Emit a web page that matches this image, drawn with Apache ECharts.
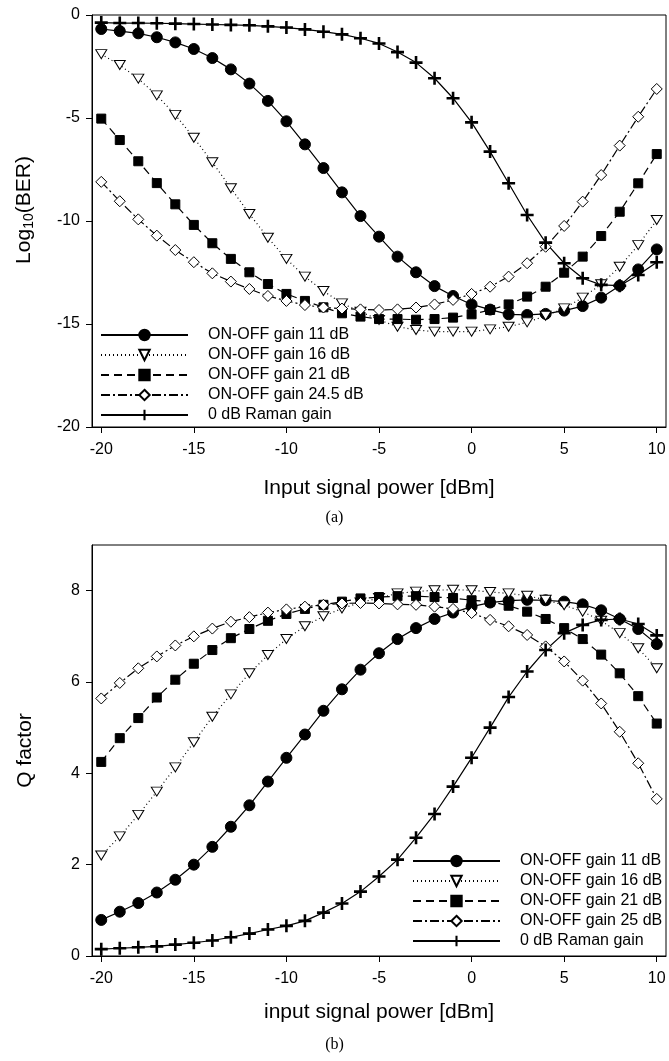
<!DOCTYPE html>
<html>
<head>
<meta charset="utf-8">
<script src="https://cdn.jsdelivr.net/npm/echarts@6/dist/echarts.min.js"></script>
<style>
  body { margin: 0; background: #fff; }
  #main { width: 669px; height: 1061px; }
</style>
</head>
<body>
<div id="main"></div>
<script>
// 横轴：输入信号功率 (dBm)
var power = [-20, -19, -18, -17, -16, -15, -14, -13, -12, -11, -10, -9, -8, -7, -6, -5,
	-4, -3, -2, -1, 0, 1, 2, 3, 4, 5, 6, 7, 8, 9, 10];
var xTicks = [-20, -15, -10, -5, 0, 5, 10];
var berTicks = [-20, -15, -10, -5, 0];
var qTicks = [0, 2, 4, 6, 8];

// (a) Log10(BER)
var ber11 = [-0.68, -0.78, -0.89, -1.08, -1.33, -1.65, -2.09, -2.64, -3.33, -4.17, -5.16, -6.28, -7.43, -8.61, -9.76,
	-10.76, -11.73, -12.49, -13.16, -13.64, -14.05, -14.3, -14.53, -14.56, -14.51, -14.35, -14.13, -13.72, -13.14, -12.35, -11.38];
var ber16 = [-1.9, -2.43, -3.09, -3.9, -4.85, -5.96, -7.15, -8.41, -9.66, -10.81, -11.84, -12.7, -13.4, -14.0, -14.4, -14.8,
	-15.13, -15.29, -15.37, -15.37, -15.37, -15.26, -15.13, -14.92, -14.6, -14.24, -13.72, -13.07, -12.22, -11.17, -9.95];
var ber21 = [-5.03, -6.07, -7.1, -8.16, -9.19, -10.19, -11.08, -11.84, -12.49, -13.06, -13.54, -13.88, -14.19, -14.48, -14.64, -14.76,
	-14.76, -14.79, -14.76, -14.69, -14.53, -14.32, -14.05, -13.67, -13.19, -12.51, -11.73, -10.73, -9.55, -8.17, -6.75];
var ber245 = [-8.1, -9.04, -9.92, -10.71, -11.41, -12.0, -12.54, -12.94, -13.3, -13.64, -13.88, -14.08, -14.2, -14.25, -14.29, -14.32,
	-14.29, -14.2, -14.05, -13.83, -13.54, -13.19, -12.7, -12.05, -11.25, -10.24, -9.06, -7.77, -6.34, -4.94, -3.59];
var ber0 = [-0.37, -0.39, -0.39, -0.4, -0.42, -0.44, -0.46, -0.48, -0.5, -0.55, -0.61, -0.7, -0.81, -0.94, -1.13, -1.38,
	-1.8, -2.31, -3.07, -4.04, -5.21, -6.63, -8.17, -9.71, -11.05, -12.05, -12.78, -13.1, -13.14, -12.62, -12.0];

// (b) Q factor
var q11 = [0.79, 0.97, 1.16, 1.39, 1.67, 2.0, 2.39, 2.83, 3.3, 3.82, 4.34, 4.85, 5.37, 5.84, 6.27, 6.63,
	6.94, 7.18, 7.38, 7.52, 7.65, 7.74, 7.78, 7.8, 7.79, 7.76, 7.7, 7.57, 7.38, 7.16, 6.83];
var q16 = [2.2, 2.62, 3.09, 3.6, 4.13, 4.68, 5.24, 5.73, 6.19, 6.59, 6.94, 7.22, 7.44, 7.61, 7.74, 7.84,
	7.94, 7.98, 8.01, 8.02, 8.01, 7.97, 7.94, 7.89, 7.8, 7.68, 7.54, 7.34, 7.07, 6.74, 6.3];
var q21 = [4.25, 4.77, 5.21, 5.66, 6.05, 6.4, 6.7, 6.96, 7.16, 7.34, 7.49, 7.6, 7.69, 7.76, 7.83, 7.86,
	7.88, 7.88, 7.86, 7.84, 7.79, 7.76, 7.67, 7.54, 7.38, 7.18, 6.94, 6.6, 6.19, 5.69, 5.09];
var q25 = [5.64, 5.98, 6.3, 6.56, 6.8, 7.0, 7.17, 7.32, 7.42, 7.52, 7.59, 7.65, 7.69, 7.72, 7.73, 7.72,
	7.7, 7.69, 7.65, 7.6, 7.51, 7.36, 7.22, 7.03, 6.78, 6.45, 6.03, 5.53, 4.91, 4.22, 3.44];
var q0 = [0.15, 0.17, 0.19, 0.21, 0.25, 0.29, 0.34, 0.41, 0.49, 0.58, 0.66, 0.77, 0.95, 1.15, 1.41, 1.74,
	2.11, 2.59, 3.11, 3.71, 4.34, 5.0, 5.67, 6.23, 6.7, 7.07, 7.25, 7.36, 7.38, 7.27, 7.02];

var FONT = "'Liberation Sans', Arial, sans-serif";
var PLUS = 'path://M4,0L6,0L6,4L10,4L10,6L6,6L6,10L4,10L4,6L0,6L0,4L4,4Z';

function pairs(ys) {
	return power.map(function (x, i) { return [x, ys[i]]; });
}

// 每条曲线的线型和标记
function makeSeries(name, ys, idx, kind) {
	var s = {
		name: name,
		type: 'line',
		xAxisIndex: idx,
		yAxisIndex: idx,
		data: pairs(ys),
		lineStyle: { color: '#000', width: 1.2, type: 'solid' },
		itemStyle: { color: '#000', borderColor: '#000', borderWidth: 1 },
		symbolSize: 10,
		animation: false,
		z: 3
	};
	if (kind == 'circle') {
		s.symbol = 'circle';
		s.symbolSize = 11;
	} else if (kind == 'tri') {
		s.symbol = 'triangle';
		s.symbolRotate = 180;
		s.symbolSize = [11, 9];
		s.itemStyle.color = '#fff';
		s.lineStyle.type = [1, 3];
	} else if (kind == 'square') {
		s.symbol = 'rect';
		s.symbolSize = 9;
		s.lineStyle.type = [8, 5];
	} else if (kind == 'diamond') {
		s.symbol = 'diamond';
		s.symbolSize = 11;
		s.itemStyle.color = '#fff';
		s.lineStyle.type = [9, 3, 2, 3];
	} else {
		s.symbol = PLUS;
		s.symbolSize = 13;
		s.itemStyle.borderWidth = 0;
	}
	return s;
}

function makeX(idx, name, gap) {
	return {
		type: 'value',
		gridIndex: idx,
		min: -20.5,
		max: 10.5,
		name: name,
		nameLocation: 'middle',
		nameGap: gap,
		nameTextStyle: { fontFamily: FONT, fontSize: 21, color: '#000' },
		axisLine: { show: true, onZero: false, lineStyle: { color: '#000', width: 1 } },
		axisTick: { show: true, length: 6, customValues: xTicks, lineStyle: { color: '#000' } },
		axisLabel: { customValues: xTicks, margin: 15, fontFamily: FONT, fontSize: 16, color: '#000' },
		splitLine: { show: false }
	};
}

function makeY(idx, min, max, ticks, name, shift) {
	return {
		type: 'value',
		gridIndex: idx,
		min: min,
		max: max,
		name: name,
		nameLocation: 'middle',
		nameRotate: 90,
		nameGap: 56,
		nameTextStyle: {
			fontFamily: FONT, fontSize: 21, color: '#000',
			padding: [0, 0, 0, shift],
			rich: {
				a: { fontFamily: FONT, fontSize: 21, color: '#000' },
				b: { fontFamily: FONT, fontSize: 14, color: '#000', padding: [10, 0, 0, 0] }
			}
		},
		axisLine: { show: true, onZero: false, lineStyle: { color: '#000', width: 1 } },
		axisTick: { show: true, length: 6, customValues: ticks, lineStyle: { color: '#000' } },
		axisLabel: { customValues: ticks, margin: 12, fontFamily: FONT, fontSize: 16, color: '#000' },
		splitLine: { show: false }
	};
}

function makeLegend(names, left, top) {
	return {
		data: names,
		orient: 'vertical',
		left: left,
		top: top,
		itemWidth: 87,
		itemHeight: 13,
		itemGap: 0,
		selectedMode: false,
		inactiveColor: '#000',
		textStyle: { fontFamily: FONT, fontSize: 16, color: '#000', lineHeight: 20, padding: [0, 0, 0, 15] }
	};
}

var names_a = ['ON-OFF gain 11 dB', 'ON-OFF gain 16 dB', 'ON-OFF gain 21 dB', 'ON-OFF gain 24.5 dB', '0 dB Raman gain'];
var names_b = ['ON-OFF gain 11 dB', 'ON-OFF gain 16 dB', 'ON-OFF gain 21 dB', 'ON-OFF gain 25 dB', '0 dB Raman gain'];

var chart = echarts.init(document.getElementById('main'), null, { renderer: 'canvas' });

var option = {
	backgroundColor: '#fff',
	animation: false,
	grid: [
		{ left: 92, top: 15, width: 574, height: 412, show: true, borderColor: '#000', borderWidth: 1, backgroundColor: 'transparent' },
		{ left: 92, top: 545, width: 574, height: 411, show: true, borderColor: '#000', borderWidth: 1, backgroundColor: 'transparent' }
	],
	xAxis: [
		makeX(0, 'Input signal power [dBm]', 51),
		makeX(1, 'input signal power [dBm]', 46)
	],
	yAxis: [
		makeY(0, -20, 0, berTicks, '{a|Log}{b|10}{a|(BER)}', 22),
		makeY(1, 0, 9, qTicks, 'Q factor', 0)
	],
	legend: [
		makeLegend(names_a, 95, 320),
		makeLegend(names_b, 407, 846)
	],
	graphic: [
		{ type: 'text', left: 'center', top: 510, style: { text: '(a)', font: '16px "Liberation Serif", "Times New Roman", serif', fill: '#000' } },
		{ type: 'text', left: 'center', top: 1037, style: { text: '(b)', font: '16px "Liberation Serif", "Times New Roman", serif', fill: '#000' } }
	],
	series: [
		makeSeries(names_a[0], ber11, 0, 'circle'),
		makeSeries(names_a[1], ber16, 0, 'tri'),
		makeSeries(names_a[2], ber21, 0, 'square'),
		makeSeries(names_a[3], ber245, 0, 'diamond'),
		makeSeries(names_a[4], ber0, 0, 'plus'),
		makeSeries(names_b[0], q11, 1, 'circle'),
		makeSeries(names_b[1], q16, 1, 'tri'),
		makeSeries(names_b[2], q21, 1, 'square'),
		makeSeries(names_b[3], q25, 1, 'diamond'),
		makeSeries(names_b[4], q0, 1, 'plus')
	]
};

chart.setOption(option);
</script>
</body>
</html>
